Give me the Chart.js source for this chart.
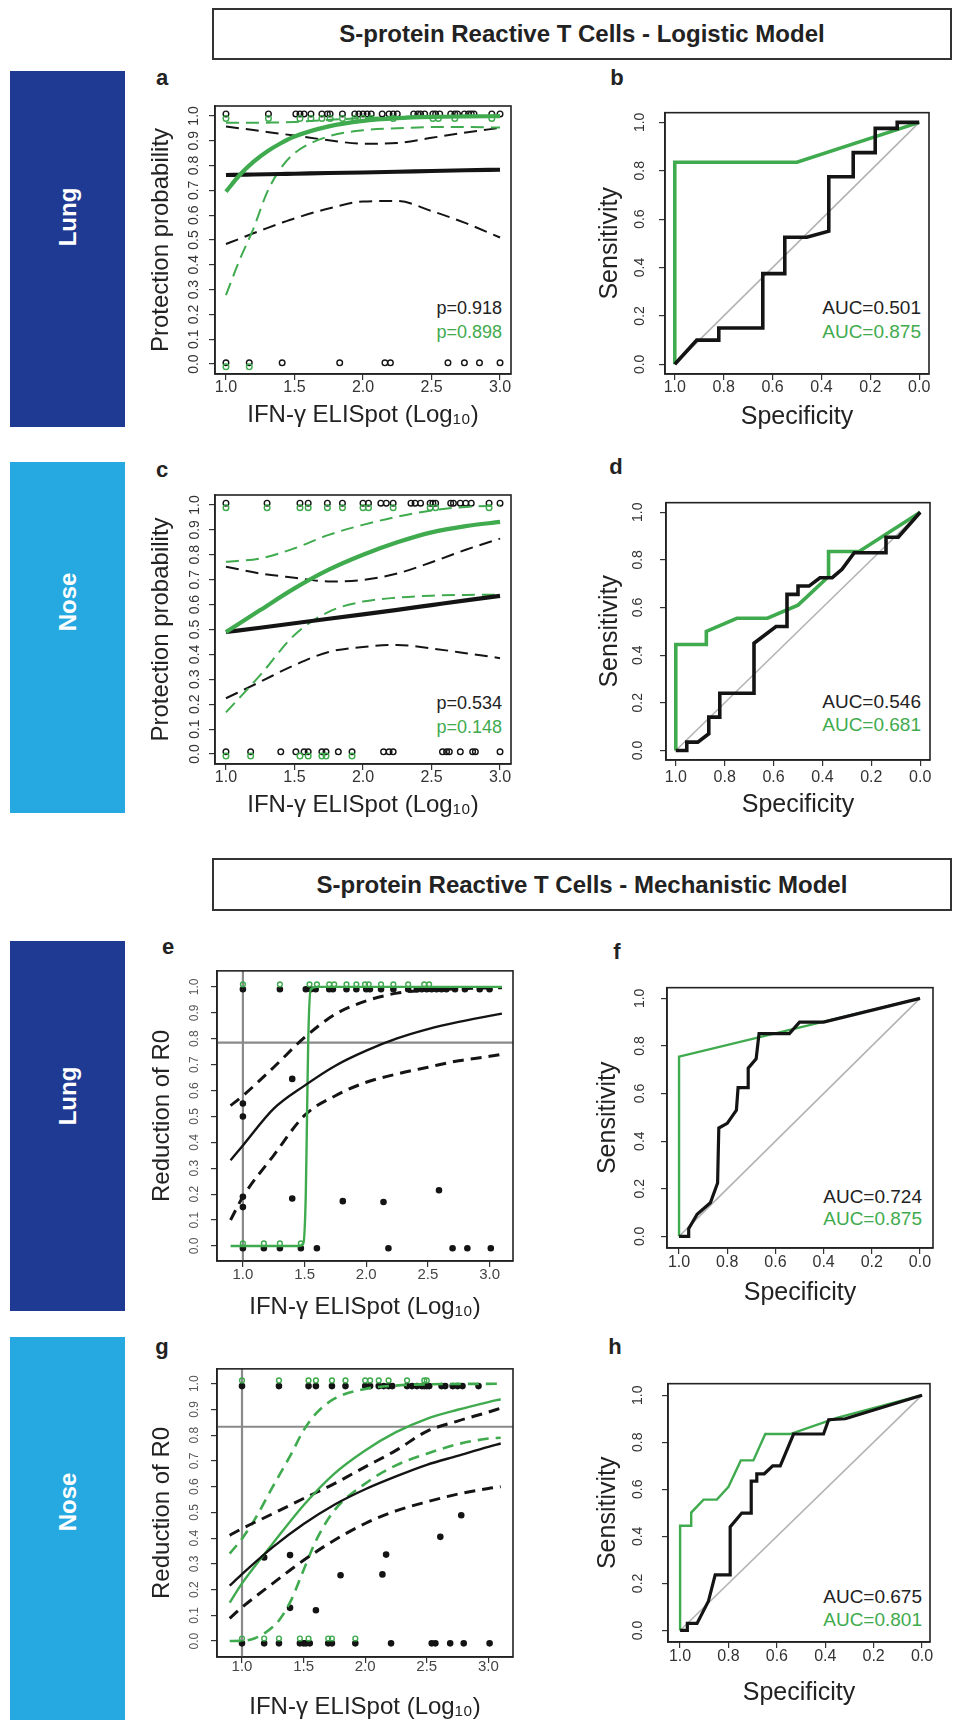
<!DOCTYPE html>
<html><head><meta charset="utf-8">
<script src="https://cdn.jsdelivr.net/npm/chart.js@4.4.1/dist/chart.umd.min.js"></script>
<style>
html,body{margin:0;padding:0;background:#fff;}
body{width:954px;height:1720px;position:relative;overflow:hidden;font-family:"Liberation Sans",Arial,sans-serif;}
.hdr{position:absolute;left:212px;width:740px;border:2px solid #333;box-sizing:border-box;display:flex;align-items:center;justify-content:center;}
.hdr span{font-weight:bold;font-size:24px;color:#222;white-space:nowrap;}
.bar{position:absolute;left:10px;width:115px;}
.bar span{position:absolute;left:50%;color:#fff;font-weight:bold;font-size:24px;transform:translate(-50%,-50%) rotate(-90deg);white-space:nowrap;}
.lbl{position:absolute;font-weight:bold;font-size:22px;color:#222;transform:translate(-50%,-50%);}
.ann{position:absolute;white-space:nowrap;transform:translateY(-50%);text-align:right;}
canvas{position:absolute;}
</style></head><body>

<div class="hdr" style="top:8px;height:52px;"><span>S-protein Reactive T Cells - Logistic Model</span></div>
<div class="hdr" style="top:858px;height:53px;"><span>S-protein Reactive T Cells - Mechanistic Model</span></div>

<div class="bar" style="top:71px;height:356px;background:#1f3a93;"><span style="top:146px;">Lung</span></div>
<div class="bar" style="top:462px;height:351px;background:#26a8e0;"><span style="top:140px;">Nose</span></div>
<div class="bar" style="top:941px;height:370px;background:#1f3a93;"><span style="top:155px;">Lung</span></div>
<div class="bar" style="top:1337px;height:383px;background:#26a8e0;"><span style="top:165px;">Nose</span></div>

<div class="lbl" style="left:162px;top:78px;">a</div>
<div class="lbl" style="left:617px;top:78px;">b</div>
<div class="lbl" style="left:162px;top:470px;">c</div>
<div class="lbl" style="left:616px;top:467px;">d</div>
<div class="lbl" style="left:168px;top:947px;">e</div>
<div class="lbl" style="left:617px;top:952px;">f</div>
<div class="lbl" style="left:162px;top:1347px;">g</div>
<div class="lbl" style="left:615px;top:1347px;">h</div>

<div class="ann" style="right:452px;top:308px;font-size:18px;color:#222;">p=0.918</div>
<div class="ann" style="right:452px;top:332px;font-size:18px;color:#3fab4e;">p=0.898</div>
<div class="ann" style="right:452px;top:703px;font-size:18px;color:#222;">p=0.534</div>
<div class="ann" style="right:452px;top:727px;font-size:18px;color:#3fab4e;">p=0.148</div>
<div class="ann" style="right:33px;top:308px;font-size:19px;color:#222;">AUC=0.501</div>
<div class="ann" style="right:33px;top:332px;font-size:19px;color:#3fab4e;">AUC=0.875</div>
<div class="ann" style="right:33px;top:702px;font-size:19px;color:#222;">AUC=0.546</div>
<div class="ann" style="right:33px;top:725px;font-size:19px;color:#3fab4e;">AUC=0.681</div>
<div class="ann" style="right:32px;top:1197px;font-size:19px;color:#222;">AUC=0.724</div>
<div class="ann" style="right:32px;top:1219px;font-size:19px;color:#3fab4e;">AUC=0.875</div>
<div class="ann" style="right:32px;top:1597px;font-size:19px;color:#222;">AUC=0.675</div>
<div class="ann" style="right:32px;top:1620px;font-size:19px;color:#3fab4e;">AUC=0.801</div>

<script>
// ---------------- DATA ----------------
// tick labels
const probTicks = [0.0,0.1,0.2,0.3,0.4,0.5,0.6,0.7,0.8,0.9,1.0];
const elispotTicks = [1.0,1.5,2.0,2.5,3.0];
const rocTicks = [0.0,0.2,0.4,0.6,0.8,1.0];

// Panel a (Lung, logistic)
const aCurveX      = [1.0,1.1,1.2,1.3,1.4,1.5,1.75,2.0,2.25,2.5,2.75,3.0];
const aBlackFit    = [0.762,0.763,0.764,0.765,0.766,0.767,0.770,0.772,0.775,0.778,0.781,0.783];
const aBlackUpper  = [0.957,0.950,0.943,0.935,0.928,0.921,0.902,0.888,0.891,0.912,0.933,0.952];
const aBlackLower  = [0.484,0.505,0.527,0.548,0.568,0.587,0.627,0.655,0.657,0.617,0.568,0.510];
const aGreenFit    = [0.695,0.762,0.815,0.857,0.890,0.917,0.958,0.980,0.991,0.996,0.998,0.999];
const aGreenUpper  = [0.972,0.972,0.972,0.973,0.974,0.976,0.984,0.991,0.996,0.998,0.999,1.000];
const aGreenLower  = [0.278,0.420,0.545,0.692,0.789,0.850,0.918,0.942,0.950,0.955,0.955,0.953];
const aTopBlackX = [1.0,1.31,1.51,1.54,1.57,1.62,1.70,1.74,1.76,1.85,1.94,1.97,2.0,2.03,2.06,2.14,2.19,2.22,2.25,2.37,2.40,2.42,2.45,2.51,2.53,2.56,2.64,2.67,2.69,2.74,2.77,2.79,2.81,2.94,3.0];
const aTopGreenX = [1.0,1.31,1.54,1.62,1.70,1.76,1.85,1.94,2.0,2.06,2.22,2.51,2.55,2.67,2.94];
const aBotBlackX = [1.0,1.17,1.41,1.83,2.16,2.20,2.62,2.74,2.85,3.0];
const aBotGreenX = [1.0,1.17];
const aLevels = {topBlack:1.008, topGreen:0.99, botBlack:0.005, botGreen:-0.011};

// Panel c (Nose, logistic)
const cCurveX      = [1.0,1.25,1.5,1.75,2.0,2.25,2.5,2.75,3.0];
const cBlackFit    = [0.490,0.507,0.525,0.543,0.561,0.579,0.598,0.617,0.635];
const cBlackUpper  = [0.752,0.725,0.708,0.693,0.699,0.725,0.770,0.820,0.865];
const cBlackLower  = [0.224,0.290,0.357,0.410,0.430,0.438,0.424,0.405,0.385];
const cGreenFit    = [0.490,0.578,0.665,0.740,0.800,0.850,0.890,0.915,0.932];
const cGreenUpper  = [0.772,0.785,0.826,0.880,0.920,0.953,0.978,0.992,0.998];
const cGreenLower  = [0.167,0.317,0.478,0.571,0.612,0.628,0.636,0.639,0.640];
const cTopBlackX = [1.0,1.30,1.54,1.60,1.74,1.85,2.0,2.04,2.13,2.17,2.22,2.35,2.38,2.42,2.49,2.51,2.53,2.64,2.66,2.71,2.75,2.79,2.92,3.0];
const cTopGreenX = [1.0,1.30,1.54,1.60,1.74,1.85,2.0,2.04,2.22,2.49,2.53,2.92];
const cBotBlackX = [1.0,1.18,1.40,1.51,1.57,1.60,1.70,1.73,1.82,1.92,2.15,2.19,2.22,2.58,2.61,2.63,2.71,2.80,2.82,3.0];
const cBotGreenX = [1.0,1.18,1.54,1.60,1.70,1.73,1.92];
const cLevels = {topBlack:1.007, topGreen:0.989, botBlack:0.009, botGreen:-0.008};

// Panel b (ROC Lung logistic)
const bBlackSpec = [1.0,0.91,0.82,0.82,0.64,0.64,0.55,0.55,0.46,0.37,0.37,0.27,0.27,0.18,0.18,0.09,0.09,0.0];
const bBlackSens = [0.0,0.10,0.10,0.15,0.15,0.375,0.375,0.525,0.525,0.55,0.775,0.775,0.875,0.875,0.975,0.975,1.0,1.0];
const bGreenSpec = [1.0,1.0,0.5,0.0];
const bGreenSens = [0.0,0.835,0.835,1.0];

// Panel d (ROC Nose logistic)
const dBlackSpec = [1.0,0.955,0.955,0.91,0.865,0.865,0.82,0.82,0.68,0.68,0.59,0.545,0.545,0.5,0.5,0.455,0.41,0.36,0.32,0.27,0.14,0.14,0.09,0.0];
const dBlackSens = [0.0,0.0,0.035,0.035,0.07,0.14,0.14,0.24,0.24,0.45,0.52,0.52,0.655,0.655,0.69,0.69,0.725,0.725,0.76,0.83,0.83,0.895,0.895,1.0];
const dGreenSpec = [1.0,1.0,0.875,0.875,0.75,0.625,0.5,0.375,0.375,0.25,0.0];
const dGreenSens = [0.0,0.445,0.445,0.50,0.555,0.555,0.61,0.73,0.835,0.835,1.0];

// Panel e (Lung, mechanistic)
const eCurveX     = [0.9,1.0,1.25,1.5,1.75,2.0,2.25,2.5,2.75,3.0,3.1];
const eBlackFit   = [0.331,0.388,0.530,0.619,0.696,0.754,0.801,0.837,0.865,0.888,0.897];
const eBlackUpper = [0.542,0.580,0.690,0.805,0.895,0.946,0.976,0.988,0.993,0.996,0.997];
const eBlackLower = [0.100,0.190,0.350,0.504,0.580,0.632,0.664,0.690,0.715,0.732,0.740];
const eGreenX     = [0.9,1.45,1.49,1.51,1.52,1.53,1.55,1.6,3.1];
const eGreenFit   = [0.0,0.0,0.01,0.2,0.5,0.8,0.99,1.0,1.0];
const eTopBlackX = [1.0,1.30,1.51,1.55,1.59,1.70,1.73,1.84,1.92,2.0,2.03,2.12,2.22,2.34,2.41,2.45,2.49,2.53,2.57,2.61,2.65,2.72,2.80,2.92,3.0];
const eTopGreenX = [1.0,1.30,1.54,1.60,1.70,1.74,1.84,1.92,1.99,2.02,2.12,2.22,2.34,2.47,2.51];
const eBotBlackX = [1.0,1.17,1.30,1.47,1.60,2.18,2.70,2.82,3.01];
const eBotGreenX = [1.0,1.17,1.30,1.47];
const eMidX = [1.0,1.0,1.0,1.0,1.40,1.40,1.81,2.14,2.59];
const eMidY = [0.55,0.50,0.19,0.15,0.645,0.183,0.173,0.17,0.215];
const eLevels = {topBlack:0.991, topGreen:1.01, botBlack:-0.009, botGreen:0.01};
const eRefX = 1.0, eRefY = 0.785;

// Panel f (ROC Lung mechanistic)
const fBlackSpec = [1.0,0.96,0.96,0.925,0.87,0.84,0.835,0.80,0.762,0.755,0.713,0.713,0.68,0.668,0.542,0.50,0.40,0.0];
const fBlackSens = [0.0,0.0,0.032,0.093,0.141,0.224,0.455,0.475,0.53,0.625,0.625,0.707,0.746,0.852,0.852,0.90,0.90,1.0];
const fGreenSpec = [1.0,1.0,0.0];
const fGreenSens = [0.0,0.755,1.0];

// Panel g (Nose, mechanistic)
const gCurveX     = [0.9,1.0,1.25,1.5,1.75,2.0,2.25,2.5,2.75,3.0,3.1];
const gBlackFit   = [0.215,0.260,0.365,0.455,0.530,0.590,0.640,0.685,0.720,0.755,0.768];
const gBlackUpper = [0.411,0.437,0.495,0.554,0.612,0.677,0.741,0.815,0.855,0.890,0.905];
const gBlackLower = [0.088,0.131,0.224,0.314,0.392,0.457,0.506,0.541,0.571,0.593,0.600];
const gGreenFit   = [0.149,0.224,0.379,0.528,0.651,0.741,0.812,0.864,0.899,0.929,0.940];
const gGreenUpX   = [0.9,1.0,1.1,1.25,1.4,1.5,1.6,1.75,2.0,2.25,2.5,3.1];
const gGreenUpper = [0.340,0.398,0.470,0.600,0.728,0.819,0.884,0.942,0.980,0.993,0.998,1.0];
const gGreenLoX   = [0.9,1.0,1.1,1.2,1.3,1.4,1.5,1.6,1.75,2.0,2.25,2.5,2.75,3.0,3.1];
const gGreenLower = [0.0,0.001,0.01,0.036,0.08,0.16,0.276,0.390,0.508,0.612,0.683,0.728,0.765,0.787,0.790];
const gTopBlackX = [1.0,1.30,1.54,1.60,1.73,1.84,2.0,2.04,2.11,2.15,2.19,2.22,2.34,2.38,2.42,2.46,2.48,2.50,2.52,2.62,2.65,2.71,2.75,2.79,2.92];
const gTopGreenX = [1.0,1.30,1.54,1.60,1.73,1.84,2.0,2.04,2.11,2.19,2.34,2.48,2.50];
const gBotBlackX = [1.0,1.18,1.30,1.47,1.50,1.52,1.55,1.70,1.73,1.92,2.21,2.54,2.57,2.69,2.80,3.01];
const gBotGreenX = [1.0,1.18,1.30,1.47,1.54,1.70,1.73,1.92];
const gMidX = [1.18,1.39,1.39,1.60,1.80,2.14,2.17,2.61,2.78];
const gMidY = [0.325,0.334,0.129,0.12,0.256,0.259,0.336,0.405,0.489];
const gLevels = {topBlack:0.991, topGreen:1.013, botBlack:-0.009, botGreen:0.01};
const gRefX = 1.0, gRefY = 0.833;

// Panel h (ROC Nose mechanistic)
const hBlackSpec = [1.0,0.97,0.97,0.93,0.883,0.855,0.793,0.793,0.745,0.706,0.706,0.683,0.683,0.652,0.617,0.586,0.531,0.407,0.386,0.317,0.0];
const hBlackSens = [0.0,0.0,0.03,0.03,0.124,0.236,0.236,0.44,0.499,0.499,0.635,0.635,0.666,0.666,0.70,0.70,0.835,0.835,0.896,0.90,1.0];
const hGreenSpec = [1.0,1.0,0.954,0.954,0.903,0.848,0.80,0.749,0.697,0.648,0.545,0.352,0.0];
const hGreenSens = [0.0,0.445,0.445,0.501,0.556,0.556,0.611,0.723,0.723,0.835,0.835,0.904,1.0];

const rocDiagSpec = [1.0,0.0];
const rocDiagSens = [0.0,1.0];

// ---------------- STYLE / HELPERS ----------------
const FONT = '"Liberation Sans", Arial, sans-serif';
const GREEN = '#3fab4e';
const BLACK = '#141414';
const GREY = '#8a8a8a';

function xy(xs, ys) { return xs.map((x, i) => ({x: x, y: Array.isArray(ys) ? ys[i] : ys})); }

function line(xs, ys, color, width, dash, order, smooth) {
  return {data: xy(xs, ys), showLine: true, borderColor: color, borderWidth: width,
    borderDash: dash || [], pointRadius: 0, pointHoverRadius: 0, fill: false,
    cubicInterpolationMode: smooth === false ? 'default' : 'monotone', tension: smooth === false ? 0 : 0.4,
    order: order, borderCapStyle: 'butt', borderJoinStyle: smooth === false ? 'miter' : 'round'};
}
function dots(xs, ys, color, filled, r, order) {
  return {data: xy(xs, ys), showLine: false, pointRadius: r, pointHoverRadius: r,
    pointBorderWidth: 1.4, borderColor: color, pointBorderColor: color,
    backgroundColor: filled ? color : 'rgba(0,0,0,0)', pointBackgroundColor: filled ? color : 'rgba(0,0,0,0)',
    order: order};
}

const framePlugin = {
  id: 'frame',
  afterDraw(chart) {
    const {ctx, chartArea: a} = chart;
    ctx.save();
    ctx.strokeStyle = '#222';
    ctx.lineWidth = 1.6;
    ctx.strokeRect(a.left, a.top, a.right - a.left, a.bottom - a.top);
    ctx.restore();
  }
};

function makePanel(area, o) {
  const LP = 95, TP = 14, RP = 14, BP = 75;
  const cv = document.createElement('canvas');
  const W = area.r - area.l + LP + RP, H = area.b - area.t + TP + BP;
  cv.width = W; cv.height = H;
  cv.style.left = (area.l - LP) + 'px';
  cv.style.top = (area.t - TP) + 'px';
  cv.style.width = W + 'px'; cv.style.height = H + 'px';
  document.body.appendChild(cv);
  const tl = 6;
  const mctx = document.createElement('canvas').getContext('2d');
  mctx.font = o.yTickSize + 'px ' + FONT;
  const widest = Math.max(...o.yTicks.map(v => mctx.measureText(v.toFixed(1)).width));
  const yPad = (area.l - tl) - o.yLabelX - widest / 2;
  const xPad = o.xLabelY - area.b - tl - o.xTickSize * 1.2 / 2;
  const tLh = o.titleSize * 1.2;
  const yTitlePad = o.yTitleX - (area.l - LP) - tLh / 2;
  const xTitlePad = (area.b + BP) - o.xTitleY - tLh / 2;
  new Chart(cv, {
    type: 'scatter',
    data: {datasets: o.datasets},
    options: {
      responsive: false, animation: false, devicePixelRatio: 1,
      events: [],
      layout: {padding: {left: 0, top: TP, right: RP, bottom: 0}},
      plugins: {legend: {display: false}, tooltip: {enabled: false}},
      scales: {
        x: {
          type: 'linear', position: 'bottom', min: o.xMin, max: o.xMax, reverse: !!o.reverse, bounds: 'data',
          afterFit: s => { s.height = BP; },
          afterBuildTicks: s => { s.ticks = o.xTicks.map(v => ({value: v})); },
          grid: {drawOnChartArea: false, drawTicks: true, tickLength: tl, color: '#333', lineWidth: 1.2},
          border: {display: true, color: '#222', width: 1.5},
          ticks: {autoSkip: false, maxRotation: 0, minRotation: 0, padding: xPad,
            font: {family: FONT, size: o.xTickSize}, color: o.xTickColor || '#333',
            callback: v => Number(v).toFixed(1)},
          title: {display: true, text: o.xTitle, font: {family: FONT, size: o.titleSize}, color: '#222',
            padding: {top: 0, bottom: xTitlePad}}
        },
        y: {
          type: 'linear', position: 'left', min: o.yMin, max: o.yMax, bounds: 'data',
          afterFit: s => { s.width = LP; },
          afterBuildTicks: s => { s.ticks = o.yTicks.map(v => ({value: v})); },
          grid: {drawOnChartArea: false, drawTicks: true, tickLength: tl, color: '#333', lineWidth: 1.2},
          border: {display: true, color: '#222', width: 1.5},
          ticks: {autoSkip: false, minRotation: 90, maxRotation: 90, crossAlign: 'center', padding: yPad,
            font: {family: FONT, size: o.yTickSize}, color: o.yTickColor || '#333',
            callback: v => Number(v).toFixed(1)},
          title: {display: true, text: o.yTitle, font: {family: FONT, size: o.titleSize}, color: '#222',
            padding: {top: yTitlePad, bottom: 0}}
        }
      }
    },
    plugins: [framePlugin]
  });
}

const XT = 'IFN-\u03B3 ELISpot (Log\u2081\u2080)';

function logisticPanel(area, pre, d, labelPos) {
  const lv = d.levels;
  makePanel(area, {
    xMin: 0.92, xMax: 3.08, yMin: -0.04, yMax: 1.04,
    xTicks: elispotTicks, yTicks: probTicks, xTickSize: 16, yTickSize: 14, titleSize: 24,
    xTitle: XT, yTitle: 'Protection probability',
    yLabelX: labelPos.yLabelX, xLabelY: labelPos.xLabelY, yTitleX: labelPos.yTitleX, xTitleY: labelPos.xTitleY,
    datasets: [
      line(d.x, d.greenFit, GREEN, 4.2, [], 1),
      line(d.x, d.blackFit, BLACK, 4.2, [], 2),
      line(d.x, d.greenUpper, GREEN, 2, [13, 7], 3),
      line(d.x, d.greenLower, GREEN, 2, [13, 7], 3),
      line(d.x, d.blackUpper, BLACK, 2, [13, 7], 4),
      line(d.x, d.blackLower, BLACK, 2, [13, 7], 4),
      dots(d.topGreen, lv.topGreen, GREEN, false, 2.8, 6),
      dots(d.botGreen, lv.botGreen, GREEN, false, 2.8, 6),
      dots(d.topBlack, lv.topBlack, BLACK, false, 2.8, 7),
      dots(d.botBlack, lv.botBlack, BLACK, false, 2.8, 7)
    ]
  });
}

function rocPanel(area, rng, d, labelPos) {
  makePanel(area, {
    xMin: rng.xMin, xMax: rng.xMax, yMin: rng.yMin, yMax: rng.yMax, reverse: true,
    xTicks: rocTicks, yTicks: rocTicks, xTickSize: 16, yTickSize: 14, titleSize: 25,
    xTitle: 'Specificity', yTitle: 'Sensitivity',
    yLabelX: labelPos.yLabelX, xLabelY: labelPos.xLabelY, yTitleX: labelPos.yTitleX, xTitleY: labelPos.xTitleY,
    datasets: [
      line(d.blackSpec, d.blackSens, BLACK, d.bw, [], 1, false),
      line(d.greenSpec, d.greenSens, GREEN, d.gw, [], 2, false),
      line(rocDiagSpec, rocDiagSens, '#b3b3b3', 1.6, [], 5, false)
    ]
  });
}

function mechPanel(area, rng, d, labelPos) {
  const lv = d.levels;
  const ds = [
    line(d.x, d.blackFit, BLACK, 2.4, [], 1),
    line(d.greenX, d.greenFit, GREEN, 2.4, [], 2),
    line(d.x, d.blackUpper, BLACK, 3, [11, 7], 3),
    line(d.x, d.blackLower, BLACK, 3, [11, 7], 3)
  ];
  if (d.greenUpper) {
    ds.push(line(d.greenUpX, d.greenUpper, GREEN, 2.6, [11, 7], 4));
    ds.push(line(d.greenLoX, d.greenLower, GREEN, 2.6, [11, 7], 4));
  }
  ds.push(dots(d.topGreen, lv.topGreen, GREEN, false, 2.4, 6));
  ds.push(dots(d.botGreen, lv.botGreen, GREEN, false, 2.4, 6));
  ds.push(dots(d.topBlack, lv.topBlack, BLACK, true, 2.6, 7));
  ds.push(dots(d.botBlack, lv.botBlack, BLACK, true, 2.6, 7));
  ds.push(dots(d.midX, d.midY, BLACK, true, 2.6, 7));
  ds.push(line([d.refX, d.refX], [rng.yMin, rng.yMax], GREY, 2.2, [], 9, false));
  ds.push(line([rng.xMin, rng.xMax], [d.refY, d.refY], GREY, 2.2, [], 9, false));
  makePanel(area, {
    xMin: rng.xMin, xMax: rng.xMax, yMin: rng.yMin, yMax: rng.yMax,
    xTicks: elispotTicks, yTicks: probTicks, xTickSize: 15, yTickSize: 12, titleSize: 24,
    yTickColor: '#555', xTickColor: '#444',
    xTitle: XT, yTitle: 'Reduction of R0',
    yLabelX: labelPos.yLabelX, xLabelY: labelPos.xLabelY, yTitleX: labelPos.yTitleX, xTitleY: labelPos.xTitleY,
    datasets: ds
  });
}

// ---------------- PANELS ----------------
logisticPanel({l: 215, t: 106, r: 511, b: 374}, 'a', {
  x: aCurveX, blackFit: aBlackFit, blackUpper: aBlackUpper, blackLower: aBlackLower,
  greenFit: aGreenFit, greenUpper: aGreenUpper, greenLower: aGreenLower,
  topBlack: aTopBlackX, topGreen: aTopGreenX, botBlack: aBotBlackX, botGreen: aBotGreenX, levels: aLevels
}, {yLabelX: 194, xLabelY: 388, yTitleX: 161, xTitleY: 415});

logisticPanel({l: 215, t: 495, r: 511, b: 764}, 'c', {
  x: cCurveX, blackFit: cBlackFit, blackUpper: cBlackUpper, blackLower: cBlackLower,
  greenFit: cGreenFit, greenUpper: cGreenUpper, greenLower: cGreenLower,
  topBlack: cTopBlackX, topGreen: cTopGreenX, botBlack: cBotBlackX, botGreen: cBotGreenX, levels: cLevels
}, {yLabelX: 195, xLabelY: 778, yTitleX: 161, xTitleY: 805});

rocPanel({l: 665, t: 109, r: 929, b: 374}, {xMin: -0.04, xMax: 1.04, yMin: -0.04, yMax: 1.04},
  {blackSpec: bBlackSpec, blackSens: bBlackSens, greenSpec: bGreenSpec, greenSens: bGreenSens, bw: 3.6, gw: 3.6},
  {yLabelX: 640, xLabelY: 388, yTitleX: 610, xTitleY: 417});

rocPanel({l: 666, t: 496, r: 930, b: 760}, {xMin: -0.04, xMax: 1.04, yMin: -0.04, yMax: 1.04},
  {blackSpec: dBlackSpec, blackSens: dBlackSens, greenSpec: dGreenSpec, greenSens: dGreenSens, bw: 3.6, gw: 3.6},
  {yLabelX: 638, xLabelY: 778, yTitleX: 610, xTitleY: 805});

mechPanel({l: 217, t: 970, r: 513, b: 1261}, {xMin: 0.79, xMax: 3.19, yMin: -0.058, yMax: 1.062}, {
  x: eCurveX, blackFit: eBlackFit, blackUpper: eBlackUpper, blackLower: eBlackLower,
  greenX: eGreenX, greenFit: eGreenFit,
  topBlack: eTopBlackX, topGreen: eTopGreenX, botBlack: eBotBlackX, botGreen: eBotGreenX,
  midX: eMidX, midY: eMidY, levels: eLevels, refX: eRefX, refY: eRefY
}, {yLabelX: 195, xLabelY: 1275, yTitleX: 162, xTitleY: 1307});

rocPanel({l: 667, t: 982, r: 933, b: 1248}, {xMin: -0.054, xMax: 1.05, yMin: -0.049, yMax: 1.045},
  {blackSpec: fBlackSpec, blackSens: fBlackSens, greenSpec: fGreenSpec, greenSens: fGreenSens, bw: 3.2, gw: 2.4},
  {yLabelX: 640, xLabelY: 1263, yTitleX: 608, xTitleY: 1293});

mechPanel({l: 217, t: 1368, r: 513, b: 1657}, {xMin: 0.797, xMax: 3.2, yMin: -0.062, yMax: 1.058}, {
  x: gCurveX, blackFit: gBlackFit, blackUpper: gBlackUpper, blackLower: gBlackLower,
  greenX: gCurveX, greenFit: gGreenFit,
  greenUpX: gGreenUpX, greenUpper: gGreenUpper, greenLoX: gGreenLoX, greenLower: gGreenLower,
  topBlack: gTopBlackX, topGreen: gTopGreenX, botBlack: gBotBlackX, botGreen: gBotGreenX,
  midX: gMidX, midY: gMidY, levels: gLevels, refX: gRefX, refY: gRefY
}, {yLabelX: 195, xLabelY: 1667, yTitleX: 162, xTitleY: 1707});

rocPanel({l: 668, t: 1375, r: 930, b: 1642}, {xMin: -0.033, xMax: 1.05, yMin: -0.049, yMax: 1.049},
  {blackSpec: hBlackSpec, blackSens: hBlackSens, greenSpec: hGreenSpec, greenSens: hGreenSens, bw: 3.2, gw: 2.4},
  {yLabelX: 638, xLabelY: 1657, yTitleX: 608, xTitleY: 1693});
</script>
</body></html>
